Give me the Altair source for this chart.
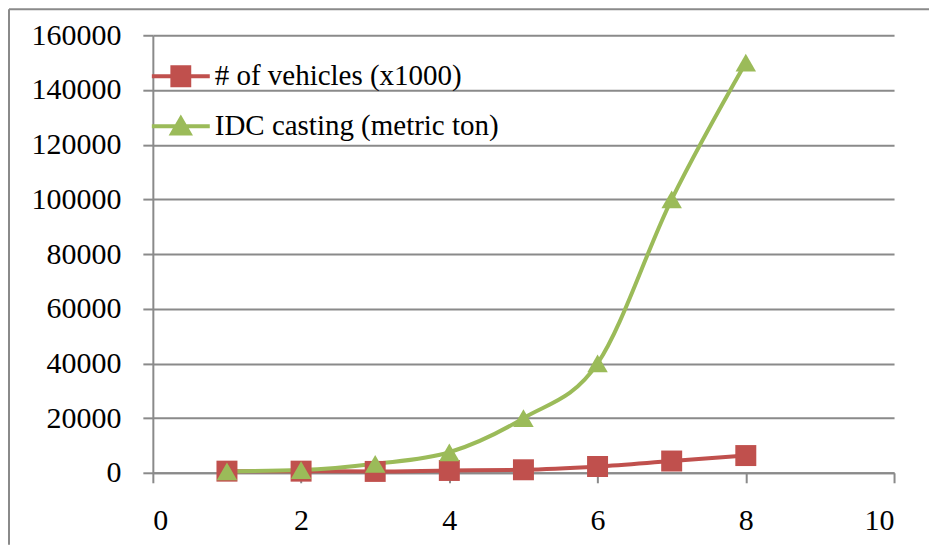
import altair as alt
import pandas as pd

# ---- data ----
x_vals = [1, 2, 3, 4, 5, 6, 7, 8]
vehicles = [600, 600, 500, 850, 1100, 2300, 4300, 6300]
idc_casting = [500, 1000, 3300, 7500, 20000, 40000, 100000, 150000]
series_names = ["# of vehicles (x1000)", "IDC casting (metric ton)"]
series_colors = ["#C0504D", "#9BBB59"]
y_ticks = [0, 20000, 40000, 60000, 80000, 100000, 120000, 140000, 160000]
x_ticks = [0, 2, 4, 6, 8, 10]

df = pd.DataFrame({
    "x": x_vals + x_vals,
    "value": vehicles + idc_casting,
    "series": [series_names[0]] * len(x_vals) + [series_names[1]] * len(x_vals),
})

FONT = "Liberation Serif"
GRAY = "#8a8a8a"
W, H = 742, 438

color_scale = alt.Scale(domain=series_names, range=series_colors)

x_enc = alt.X("x:Q", scale=alt.Scale(domain=[0, 10]),
              axis=alt.Axis(values=x_ticks, grid=False, title=None, format="d",
                            domainColor=GRAY, domainWidth=2, tickColor=GRAY,
                            tickWidth=2, tickSize=10, labelFont=FONT,
                            labelFontSize=30, labelColor="black",
                            labelPadding=23))
y_enc = alt.Y("value:Q", scale=alt.Scale(domain=[0, 160000]),
              axis=alt.Axis(values=y_ticks, grid=True, gridColor=GRAY,
                            gridWidth=2, title=None, format="d",
                            domainColor=GRAY, domainWidth=2, tickColor=GRAY,
                            tickWidth=2, tickSize=10, labelFont=FONT,
                            labelFontSize=30, labelColor="black",
                            labelPadding=22))

base = alt.Chart(df).encode(x=x_enc, y=y_enc)


def series_layers(i, shape, size):
    sub = base.transform_filter(alt.datum.series == series_names[i])
    ln = sub.mark_line(strokeWidth=4, interpolate="monotone", color=series_colors[i])
    pt = sub.mark_point(shape=shape, filled=True, opacity=1, size=size,
                        color=series_colors[i])
    return ln, pt


red_line, red_pts = series_layers(0, "square", 441)
green_line, green_pts = series_layers(1, "triangle-up", 420)

# legend symbols: a line with the marker in its middle
red_sym = "M-1,-0.07H1V0.07H-1Z M-0.36,-0.38H0.36V0.38H-0.36Z"
green_sym = "M-1,-0.07H1V0.07H-1Z M0,-0.4L0.42,0.32H-0.42Z"

leg = alt.Legend(orient="none", legendX=-1, legendY=12, title=None,
                 labelFont=FONT, labelFontSize=29, labelColor="black",
                 labelLimit=500, symbolSize=3364, symbolStrokeWidth=0,
                 labelOffset=5, rowPadding=6)

legend_layer = base.mark_point(filled=True, opacity=1).encode(
    color=alt.Color("series:N", scale=color_scale, legend=leg),
    shape=alt.Shape("series:N", scale=alt.Scale(domain=series_names,
                                                 range=[red_sym, green_sym]),
                    legend=leg),
).transform_filter("false")

frame_src = alt.Chart(pd.DataFrame({"f": [0]}))
frame_left = frame_src.mark_rule(color=GRAY, strokeWidth=2).encode(
    x=alt.value(-144), y=alt.value(-26), y2=alt.value(510))
frame_top = frame_src.mark_rule(color=GRAY, strokeWidth=2).encode(
    x=alt.value(-144), x2=alt.value(777), y=alt.value(-26))

chart = alt.layer(frame_left, frame_top, red_line, green_line, red_pts,
                  green_pts, legend_layer).properties(
    width=W, height=H,
    padding={"left": 0, "top": 0, "right": 0, "bottom": 0},
    background="white",
).configure_view(strokeWidth=0)

chart.save("out.html", embed_options={"renderer": "svg", "actions": False})
